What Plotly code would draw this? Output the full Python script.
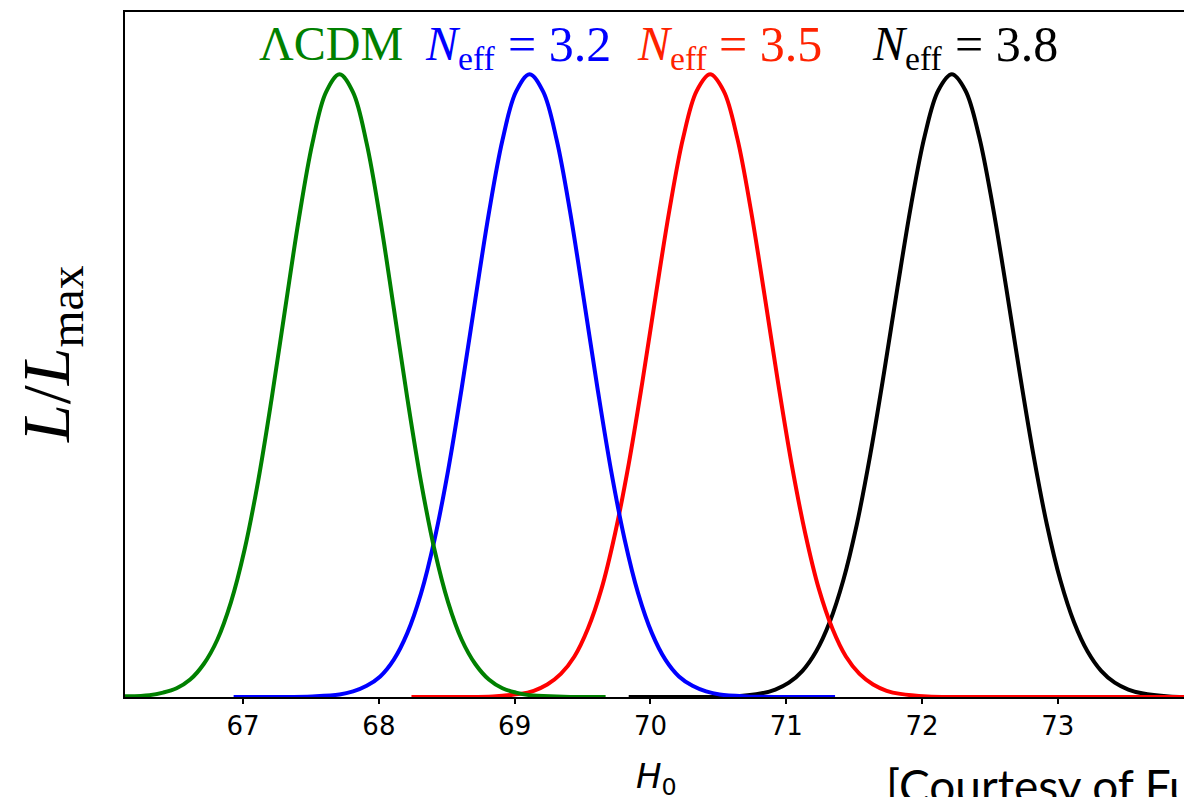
import plotly.graph_objects as go

# H0 likelihood profiles, normalised to their maxima
h0_lcdm = [65.70, 66.11, 66.31, 66.41, 66.51, 66.61, 66.71, 66.81, 66.91, 67.01, 67.11, 67.21,
           67.31, 67.41, 67.51, 67.61, 67.71, 67.81, 67.91, 68.01, 68.11, 68.21, 68.31, 68.41,
           68.51, 68.61, 68.71, 68.81, 68.91, 69.01, 69.11, 69.31, 69.51, 69.67]
L_lcdm = [0.000, 0.001, 0.003, 0.007, 0.014, 0.028, 0.053, 0.092, 0.152, 0.236, 0.346, 0.479,
          0.624, 0.767, 0.889, 0.971, 1.000, 0.971, 0.889, 0.767, 0.624, 0.479, 0.346, 0.236,
          0.152, 0.092, 0.053, 0.028, 0.014, 0.007, 0.003, 0.001, 0.000, 0.000]

h0_n32 = [66.93, 67.31, 67.51, 67.71, 67.81, 67.91, 68.01, 68.11, 68.21, 68.31, 68.41, 68.51,
          68.61, 68.71, 68.81, 68.91, 69.01, 69.11, 69.21, 69.31, 69.41, 69.51, 69.61, 69.71,
          69.81, 69.91, 70.01, 70.11, 70.21, 70.31, 70.41, 70.51, 70.71, 70.91, 71.36]
L_n32 = [0.000, 0.000, 0.001, 0.004, 0.009, 0.018, 0.033, 0.060, 0.103, 0.166, 0.253, 0.364,
         0.496, 0.638, 0.777, 0.894, 0.972, 1.000, 0.972, 0.894, 0.777, 0.638, 0.496, 0.364,
         0.253, 0.166, 0.103, 0.060, 0.033, 0.018, 0.009, 0.004, 0.001, 0.000, 0.000]

h0_n35 = [68.24, 68.64, 68.84, 69.04, 69.14, 69.24, 69.34, 69.44, 69.54, 69.64, 69.74, 69.84,
          69.94, 70.04, 70.14, 70.24, 70.34, 70.44, 70.54, 70.64, 70.74, 70.84, 70.94, 71.04,
          71.14, 71.24, 71.34, 71.44, 71.54, 71.64, 71.74, 71.84, 72.04, 72.24, 72.80, 74.20]
L_n35 = [0.000, 0.000, 0.001, 0.005, 0.010, 0.020, 0.037, 0.065, 0.110, 0.174, 0.263, 0.374,
         0.505, 0.646, 0.782, 0.897, 0.973, 1.000, 0.973, 0.897, 0.782, 0.646, 0.505, 0.374,
         0.263, 0.174, 0.110, 0.065, 0.037, 0.020, 0.010, 0.005, 0.001, 0.000, 0.000, 0.000]

h0_n38 = [69.84, 70.42, 70.62, 70.82, 70.92, 71.02, 71.12, 71.22, 71.32, 71.42, 71.52, 71.62,
          71.72, 71.82, 71.92, 72.02, 72.12, 72.22, 72.32, 72.42, 72.52, 72.62, 72.72, 72.82,
          72.92, 73.02, 73.12, 73.22, 73.32, 73.42, 73.52, 73.62, 73.82, 74.02, 74.20]
L_n38 = [0.000, 0.000, 0.001, 0.006, 0.012, 0.023, 0.042, 0.073, 0.120, 0.187, 0.277, 0.390,
         0.520, 0.658, 0.790, 0.901, 0.974, 1.000, 0.974, 0.901, 0.790, 0.658, 0.520, 0.390,
         0.277, 0.187, 0.120, 0.073, 0.042, 0.023, 0.012, 0.006, 0.001, 0.000, 0.000]

neff_values = ["3.2", "3.5", "3.8"]

x_ticks = [67, 68, 69, 70, 71, 72, 73]
x_tick_labels = ["67", "68", "69", "70", "71", "72", "73"]

W, H = 1184, 797
ML, MR, MT, MB = 125, 0, 12, 100
PW, PH = W - ML - MR, H - MT - MB


def px_x(px):
    return (px - ML) / PW


def px_y(py):
    return (H - MB - py) / PH


GREEN, BLUE, RED, BLACK = "#008000", "#0000ff", "#ff0000", "black"
RED_TEXT = "#ff2200"

fig = go.Figure()

# drawn back to front: black, red, blue, green
series = [
    (h0_n38, L_n38, BLACK),
    (h0_n35, L_n35, RED),
    (h0_n32, L_n32, BLUE),
    (h0_lcdm, L_lcdm, GREEN),
]
for xs, ys, col in series:
    fig.add_trace(go.Scatter(
        x=xs, y=ys, mode="lines",
        line=dict(color=col, width=4, shape="spline", smoothing=1.0),
        showlegend=False, hoverinfo="skip",
    ))

serif = "Liberation Serif"
LABEL_TOP = 15
annotations = []


def top_label(text, col, left, size=48, top=LABEL_TOP):
    annotations.append(dict(
        text=text, x=px_x(left), y=px_y(top), xref="paper", yref="paper",
        xanchor="left", yanchor="top", showarrow=False,
        font=dict(family=serif, size=size, color=col),
    ))


top_label("ΛCDM", GREEN, 257)
# each N_eff label: symbol with subscript, then "= value"
label_colors = [BLUE, RED_TEXT, BLACK]
symbol_left = [423, 635, 870]
equals_left = [506, 717, 953]
for value, col, n_left, eq_left in zip(neff_values, label_colors, symbol_left, equals_left):
    top_label("<i>N</i><sub>eff</sub>", col, n_left)
    top_label(f"= {value}", col, eq_left, size=50, top=LABEL_TOP - 1)

annotations.append(dict(
    text="<i>H</i><sub>0</sub>", x=px_x(656), y=px_y(778), xref="paper", yref="paper",
    xanchor="center", yanchor="middle", showarrow=False,
    font=dict(family="DejaVu Sans", size=34, color="black"),
))
annotations.append(dict(
    text="<i>L</i>/<i>L</i><sub>max</sub>", x=px_x(50), y=px_y(354), xref="paper", yref="paper",
    xanchor="center", yanchor="middle", showarrow=False, textangle=-90,
    font=dict(family=serif, size=68, color="black"),
))
annotations.append(dict(
    text="[Courtesy of Fu", x=px_x(884), y=px_y(756), xref="paper", yref="paper",
    xanchor="left", yanchor="top", showarrow=False,
    font=dict(family="Lato", size=46, color="black"),
))

fig.update_layout(
    width=W, height=H,
    margin=dict(l=ML, r=MR, t=MT, b=MB, pad=0),
    paper_bgcolor="white", plot_bgcolor="white",
    annotations=annotations,
    xaxis=dict(
        range=[66.13, 73.93], tickmode="array", tickvals=x_ticks, ticktext=x_tick_labels,
        ticks="outside", ticklen=5, tickwidth=1.5, tickcolor="black",
        showline=True, linecolor="black", linewidth=1.6, mirror=True,
        showgrid=False, zeroline=False,
        tickfont=dict(family="DejaVu Sans", size=26, color="black"),
    ),
    yaxis=dict(
        range=[0, 1.1], showticklabels=False, ticks="",
        showline=True, linecolor="black", linewidth=1.6, mirror=False,
        showgrid=False, zeroline=False,
    ),
)

fig.write_html("out.html")
